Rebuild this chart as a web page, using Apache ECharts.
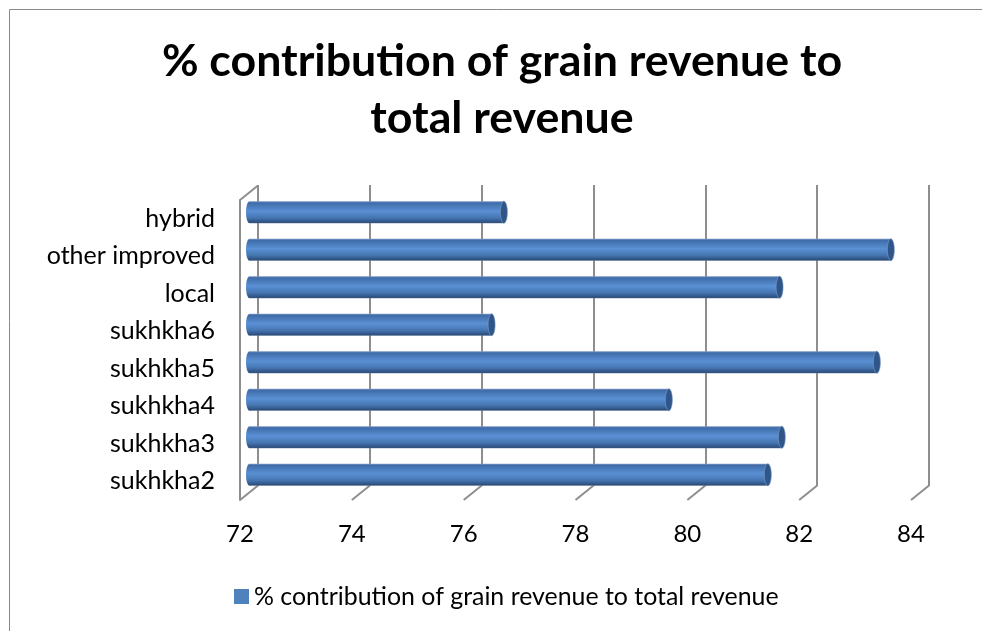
<!DOCTYPE html>
<html><head><meta charset="utf-8">
<style>html,body{margin:0;padding:0;background:#fff}#c{width:982px;height:631px}</style>
<script src="https://cdn.jsdelivr.net/npm/echarts@6/dist/echarts.min.js"></script>
</head><body><div id="c"></div>
<script>
const categories = ['sukhkha2','sukhkha3','sukhkha4','sukhkha5','sukhkha6','local','other improved','hybrid'];
const values = [81.27,81.52,79.5,83.22,76.33,81.48,83.47,76.55];
const ticks = [72,74,76,78,80,82,84];
const seriesName = '% contribution of grain revenue to total revenue';
const titleText = '% contribution of grain revenue to\ntotal revenue';

const FONT = 'Lato';
const GRID_COLOR = '#8e8e8e';
const depthX = 18, depthY = -14.5;
const barW = 22, capRx = 3.5;
const bodyGrad = new echarts.graphic.LinearGradient(0,0,0,1,[
  {offset:0,color:'#7f9cc6'},{offset:0.07,color:'#3f6ca8'},{offset:0.45,color:'#5a90d4'},
  {offset:0.75,color:'#4676b2'},{offset:0.96,color:'#2c4e7d'},{offset:1,color:'#5d7596'}]);

const chart = echarts.init(document.getElementById('c'),null,{renderer:'canvas'});
const xBase = {type:'value',min:72,max:84,interval:2,axisLine:{show:false},axisTick:{show:false}};
const yBase = {type:'category',data:categories,axisTick:{show:false}};
chart.setOption({
  animation:false,
  backgroundColor:'#fff',
  graphic:[{type:'rect',silent:true,z:-10,shape:{x:9.5,y:9.5,width:1000,height:700},
    style:{fill:'#fff',stroke:'#8a8a8a',lineWidth:1}}],
  title:{text:titleText,left:497,top:28,textAlign:'center',
    textStyle:{fontFamily:FONT,fontWeight:'bold',fontSize:44.7,lineHeight:57,color:'#000'}},
  legend:{show:true,left:229,top:579,itemWidth:15,itemHeight:15,itemGap:6,icon:'rect',
    data:[{name:seriesName,itemStyle:{color:'#4f81bd'}}],
    textStyle:{fontFamily:FONT,fontSize:24.9,color:'#000',padding:[0,0,0,0]}},
  grid:[
    {left:240,top:200,width:671,height:300},
    {left:258,top:185,width:671,height:301},
    {left:249.5,top:193.5,width:671,height:300}
  ],
  xAxis:[
    Object.assign({},xBase,{gridIndex:0,splitLine:{show:false},
      axisLabel:{margin:22,fontFamily:FONT,fontSize:24,color:'#000'}}),
    Object.assign({},xBase,{gridIndex:1,axisLabel:{show:false},
      splitLine:{show:true,lineStyle:{color:GRID_COLOR,width:2}}}),
    Object.assign({},xBase,{gridIndex:2,axisLabel:{show:false},splitLine:{show:false}})
  ],
  yAxis:[
    Object.assign({},yBase,{gridIndex:0,axisLine:{show:true,lineStyle:{color:GRID_COLOR,width:2}},
      axisLabel:{margin:25,fontFamily:FONT,fontSize:25,color:'#000',padding:[6,0,0,0]}}),
    Object.assign({},yBase,{gridIndex:1,axisLine:{show:false},axisLabel:{show:false}}),
    Object.assign({},yBase,{gridIndex:2,axisLine:{show:false},axisLabel:{show:false}})
  ],
  series:[
    {type:'custom',name:'floor',xAxisIndex:0,yAxisIndex:0,z:1,clip:false,silent:true,
      data:ticks.map(t=>[t]),
      renderItem(p,api){
        const x=api.coord([api.value(0),0])[0], b=p.coordSys.y+p.coordSys.height, t=p.coordSys.y;
        const line=(y)=>({type:'line',shape:{x1:x,y1:y,x2:x+depthX,y2:y+depthY},
          style:{stroke:GRID_COLOR,lineWidth:2}});
        const kids=[line(b)];
        if(api.value(0)===ticks[0]) kids.push(line(t));
        return {type:'group',children:kids};
      }},
    {type:'bar',name:seriesName,xAxisIndex:2,yAxisIndex:2,z:3,barWidth:barW,
      data:values,itemStyle:{color:bodyGrad}},
    {type:'custom',name:'caps',xAxisIndex:2,yAxisIndex:2,z:4,clip:false,silent:true,
      data:values.map((v,i)=>[v,i]),
      renderItem(p,api){
        const end=api.coord([api.value(0),api.value(1)]);
        const start=api.coord([ticks[0],api.value(1)]);
        return {type:'group',children:[
          {type:'ellipse',shape:{cx:start[0],cy:start[1],rx:capRx,ry:barW/2},style:{fill:bodyGrad}},
          {type:'ellipse',shape:{cx:end[0],cy:end[1],rx:capRx,ry:barW/2},
            style:{fill:'#2f5688',stroke:'#7f9cc6',lineWidth:0.6}}
        ]};
      }}
  ]
});
</script></body></html>
